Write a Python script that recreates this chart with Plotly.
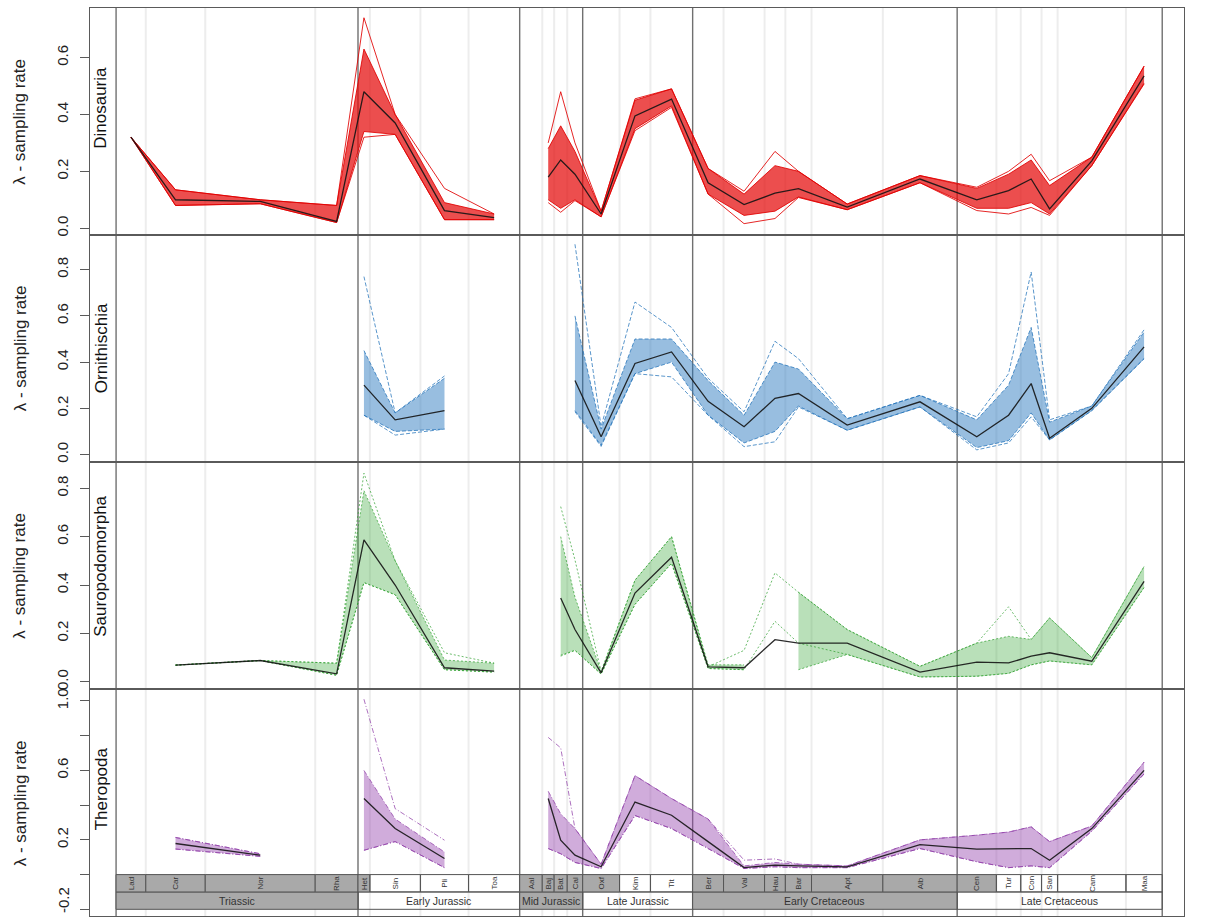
import plotly.graph_objects as go

N = None

# ---------------- time scale (Ma) ----------------
stage_names = ["Lad", "Car", "Nor", "Rha", "Het", "Sin", "Pli", "Toa", "Aal", "Baj", "Bat", "Cal",
               "Oxf", "Kim", "Tit", "Ber", "Val", "Hau", "Bar", "Apt", "Alb", "Cen", "Tur", "Con",
               "San", "Cam", "Maa"]
stage_base_ma = [242.0, 237.0, 227.0, 208.5, 201.3, 199.3, 190.8, 182.7, 174.1, 170.3, 168.3, 166.1,
                 163.5, 157.3, 152.1, 145.0, 139.8, 132.9, 129.4, 125.0, 113.0, 100.5, 93.9, 89.8,
                 86.3, 83.6, 72.1]
stage_top_ma = [237.0, 227.0, 208.5, 201.3, 199.3, 190.8, 182.7, 174.1, 170.3, 168.3, 166.1, 163.5,
                157.3, 152.1, 145.0, 139.8, 132.9, 129.4, 125.0, 113.0, 100.5, 93.9, 89.8, 86.3,
                83.6, 72.1, 66.0]
period_names = ["Triassic", "Early Jurassic", "Mid Jurassic", "Late Jurassic",
                "Early Cretaceous", "Late Cretaceous"]
period_base_ma = [242.0, 201.3, 174.1, 163.5, 145.0, 100.5]
period_top_ma = [201.3, 174.1, 163.5, 145.0, 100.5, 66.0]
period_shaded = [True, False, True, False, True, False]

# ---------------- lambda sampling rates (per stage) ----------------
clade_names = ["Dinosauria", "Ornithischia", "Sauropodomorpha", "Theropoda"]

din_mean = [0.32, 0.10, 0.094, 0.024, 0.48, 0.37, 0.062, 0.037, N, 0.18, 0.24, 0.19, 0.05, 0.395, 0.454,
            0.16, 0.083, 0.123, 0.139, 0.074, 0.173, 0.10, 0.132, 0.173, 0.068, 0.237, 0.536]
din_lo = [0.32, 0.08, 0.086, 0.02, 0.34, 0.33, 0.03, 0.03, N, 0.10, 0.07, 0.10, 0.04, 0.35, 0.43,
          0.12, 0.045, 0.06, 0.11, 0.065, 0.16, 0.07, 0.07, 0.09, 0.05, 0.22, 0.51]
din_hi = [0.32, 0.135, 0.10, 0.08, 0.63, 0.40, 0.09, 0.05, N, 0.28, 0.36, 0.27, 0.06, 0.45, 0.49,
          0.21, 0.12, 0.22, 0.20, 0.085, 0.185, 0.14, 0.19, 0.24, 0.15, 0.25, 0.57]
din_up = [0.32, 0.135, 0.10, 0.08, 0.74, 0.40, 0.14, 0.05, N, 0.30, 0.48, 0.30, 0.06, 0.455, 0.49,
          0.21, 0.13, 0.27, 0.20, 0.085, 0.185, 0.144, 0.20, 0.26, 0.167, 0.25, 0.57]
din_dn = [0.32, 0.08, 0.086, 0.02, 0.32, 0.33, 0.03, 0.03, N, 0.09, 0.056, 0.097, 0.04, 0.343, 0.425,
          0.12, 0.016, 0.034, 0.108, 0.065, 0.16, 0.062, 0.05, 0.073, 0.045, 0.22, 0.507]

orn_mean = [N, N, N, N, 0.30, 0.15, 0.19, N, N, N, N, 0.32, 0.077, 0.394, 0.444,
            0.23, 0.12, 0.243, 0.264, 0.127, 0.228, 0.077, 0.17, 0.307, 0.07, 0.20, 0.466]
orn_lo = [N, N, N, N, 0.17, 0.10, 0.11, N, N, N, N, 0.19, 0.04, 0.35, 0.40,
          0.17, 0.05, 0.10, 0.21, 0.105, 0.206, 0.03, 0.06, 0.18, 0.063, 0.19, 0.415]
orn_hi = [N, N, N, N, 0.45, 0.18, 0.33, N, N, N, N, 0.60, 0.11, 0.50, 0.50,
          0.32, 0.17, 0.40, 0.37, 0.155, 0.256, 0.15, 0.30, 0.55, 0.14, 0.21, 0.53]
orn_up = [N, N, N, N, 0.77, 0.18, 0.34, N, N, N, N, 0.91, 0.12, 0.66, 0.55,
          0.33, 0.185, 0.49, 0.415, 0.155, 0.256, 0.163, 0.35, 0.79, 0.15, 0.21, 0.54]
orn_dn = [N, N, N, N, 0.17, 0.084, 0.11, N, N, N, N, 0.185, 0.035, 0.35, 0.336,
          0.17, 0.034, 0.055, 0.206, 0.105, 0.206, 0.02, 0.05, 0.163, 0.063, 0.19, 0.415]

sau_mean = [N, 0.069, 0.088, 0.033, 0.587, 0.40, 0.058, 0.044, N, N, 0.346, 0.216, 0.037, 0.367, 0.515,
            0.062, 0.058, 0.174, 0.16, 0.16, 0.04, 0.081, 0.078, 0.106, 0.12, 0.085, 0.415]
sau_lo = [N, 0.069, 0.088, 0.027, 0.41, 0.36, 0.05, 0.04, N, N, 0.11, 0.13, 0.032, 0.32, 0.49,
          0.055, 0.05, N, 0.05, 0.113, 0.02, 0.023, 0.035, 0.07, 0.086, 0.07, 0.39]
sau_hi = [N, 0.069, 0.088, 0.077, 0.79, 0.50, 0.09, 0.077, N, N, 0.60, 0.35, 0.042, 0.42, 0.60,
          0.07, 0.07, N, 0.37, 0.216, 0.064, 0.16, 0.188, 0.175, 0.264, 0.10, 0.477]
sau_up = [N, 0.069, 0.088, 0.077, 0.862, 0.50, 0.12, 0.077, N, N, 0.724, 0.504, 0.042, 0.42, 0.60,
          0.062, 0.13, 0.45, 0.37, 0.216, 0.064, 0.16, 0.31, 0.175, 0.264, 0.10, 0.477]
sau_dn = [N, 0.069, 0.088, 0.027, 0.41, 0.36, 0.05, 0.04, N, N, 0.106, 0.13, 0.032, 0.32, 0.49,
          0.055, 0.05, 0.25, 0.16, 0.113, 0.02, 0.023, 0.035, 0.07, 0.086, 0.07, 0.39]

the_mean = [N, 0.179, 0.112, N, 0.438, 0.265, 0.093, N, N, 0.438, 0.198, 0.112, 0.045, 0.418, 0.342,
            0.19, 0.04, 0.055, 0.05, 0.045, 0.173, 0.147, 0.147, 0.15, 0.083, 0.265, 0.60]
the_lo = [N, 0.147, 0.105, N, 0.14, 0.19, 0.04, N, N, 0.15, 0.12, 0.07, 0.035, 0.34, 0.265,
          0.15, 0.035, 0.045, 0.04, 0.04, 0.15, 0.074, 0.04, 0.05, 0.04, 0.25, 0.58]
the_hi = [N, 0.214, 0.12, N, 0.60, 0.32, 0.13, N, N, 0.48, 0.35, 0.265, 0.06, 0.57, 0.438,
          0.32, 0.05, 0.07, 0.06, 0.05, 0.20, 0.227, 0.245, 0.275, 0.19, 0.28, 0.648]
the_up = [N, 0.214, 0.12, N, 1.01, 0.38, 0.198, N, N, 0.79, 0.73, 0.265, 0.06, 0.57, 0.438,
          0.32, 0.083, 0.09, 0.06, 0.05, 0.20, 0.227, 0.245, 0.275, 0.19, 0.28, 0.648]
the_dn = [N, 0.147, 0.105, N, 0.14, 0.19, 0.04, N, N, 0.15, 0.12, 0.07, 0.035, 0.34, 0.265,
          0.15, 0.035, 0.045, 0.04, 0.04, 0.15, 0.074, 0.04, 0.05, 0.04, 0.25, 0.58]

# ---------------- styling ----------------
W, H = 1219, 919
FONT = "Liberation Sans, Arial, sans-serif"
clade_line = ["rgba(225,0,0,0.85)", "rgba(35,115,185,0.75)", "rgba(45,160,45,0.7)", "rgba(145,65,170,0.75)"]
clade_fill = ["rgba(228,10,10,0.72)", "rgba(40,120,190,0.48)", "rgba(60,170,60,0.36)", "rgba(150,70,175,0.45)"]
clade_dash = ["solid", "4px,2px", "2px,2px", "5px,2px,1px,2px"]

panel_px = [(7, 235), (235, 462.5), (462.5, 690), (690, 917)]   # top, bottom in pixels
x_px = (90, 1184)
y_ranges = [[-0.0256, 0.7744], [-0.0346, 0.948], [-0.0318, 0.9064], [-0.2385, 1.066]]
y_ticks = [[0.0, 0.2, 0.4, 0.6], [0.0, 0.2, 0.4, 0.6, 0.8], [0.0, 0.2, 0.4, 0.6, 0.8],
           [-0.2, 0.0, 0.2, 0.4, 0.6, 0.8, 1.0]]
y_ticktext = [["0.0", "0.2", "0.4", "0.6"], ["0.0", "0.2", "0.4", "0.6", "0.8"],
              ["0.0", "0.2", "0.4", "0.6", "0.8"], ["", "", "0.2", "", "0.6", "", "1.0"]]
label_centers_px = [107, 348, 567, 790]
title_centers_px = [121, 348, 576, 804]

# time axis mapping: 358 px = 201.3 Ma, 5.944 px per Ma
PX_PER_MA = 5.944
x_left_ma = 201.3 + (358 - x_px[0]) / PX_PER_MA
x_right_ma = 201.3 - (x_px[1] - 358) / PX_PER_MA

mids = [(b + t) / 2 for b, t in zip(stage_base_ma, stage_top_ma)]

series = [
    (din_mean, din_lo, din_hi, din_up, din_dn),
    (orn_mean, orn_lo, orn_hi, orn_up, orn_dn),
    (sau_mean, sau_lo, sau_hi, sau_up, sau_dn),
    (the_mean, the_lo, the_hi, the_up, the_dn),
]


def runs(vals):
    out, start = [], None
    for i, v in enumerate(vals):
        if v is not None and start is None:
            start = i
        if v is None and start is not None:
            out.append((start, i - 1))
            start = None
    if start is not None:
        out.append((start, len(vals) - 1))
    return [r for r in out if r[1] > r[0]]


fig = go.Figure()

for k in range(4):
    ax = "" if k == 0 else str(k + 1)
    xa, ya = "x" + ax, "y" + ax
    mean, lo, hi, up, dn = series[k]
    # replicate spread band
    for (i0, i1) in runs(lo):
        xs = mids[i0:i1 + 1]
        fig.add_trace(go.Scatter(x=xs, y=lo[i0:i1 + 1], mode="lines", line=dict(width=0),
                                 xaxis=xa, yaxis=ya, hoverinfo="skip", showlegend=False))
        fig.add_trace(go.Scatter(x=xs, y=hi[i0:i1 + 1], mode="lines", line=dict(width=0),
                                 fill="tonexty", fillcolor=clade_fill[k],
                                 xaxis=xa, yaxis=ya, hoverinfo="skip", showlegend=False))
    # individual replicate lines
    for arr in (lo, hi, up, dn):
        for (i0, i1) in runs(arr):
            fig.add_trace(go.Scatter(x=mids[i0:i1 + 1], y=arr[i0:i1 + 1], mode="lines",
                                     line=dict(color=clade_line[k], width=1, dash=clade_dash[k]),
                                     xaxis=xa, yaxis=ya, hoverinfo="skip", showlegend=False))
    # observed series
    for (i0, i1) in runs(mean):
        fig.add_trace(go.Scatter(x=mids[i0:i1 + 1], y=mean[i0:i1 + 1], mode="lines",
                                 line=dict(color="rgba(20,20,20,0.9)", width=1.3),
                                 xaxis=xa, yaxis=ya, name=clade_names[k], showlegend=False))

layout = dict(width=W, height=H, autosize=False, margin=dict(l=0, r=0, t=0, b=0),
              paper_bgcolor="white", plot_bgcolor="white", showlegend=False,
              font=dict(family=FONT, color="#222"))

for k in range(4):
    ax = "" if k == 0 else str(k + 1)
    top, bot = panel_px[k]
    layout["xaxis" + ax] = dict(domain=[x_px[0] / W, x_px[1] / W], range=[x_left_ma, x_right_ma],
                                showgrid=False, zeroline=False, showticklabels=False, ticks="",
                                showline=True, mirror=True, linecolor="#5a5a5a", linewidth=1.3,
                                anchor="y" + ax)
    layout["yaxis" + ax] = dict(domain=[1 - bot / H, 1 - top / H], range=y_ranges[k],
                                tickvals=y_ticks[k], ticktext=y_ticktext[k], tickangle=-90,
                                ticks="outside", ticklen=9, tickwidth=1, tickcolor="#5a5a5a",
                                ticklabelstandoff=6,
                                tickfont=dict(size=15, family=FONT, color="#222"),
                                showgrid=False, zeroline=False, showline=True, mirror=True,
                                linecolor="#5a5a5a", linewidth=1.3, anchor="x" + ax)

shapes = []
period_edges = set(period_base_ma + period_top_ma)
y_full0, y_full1 = 1 - panel_px[3][1] / H, 1 - panel_px[0][0] / H
for b in stage_base_ma[1:]:
    if b not in period_edges:
        shapes.append(dict(type="line", xref="x", yref="paper", x0=b, x1=b, y0=y_full0, y1=y_full1,
                           line=dict(color="rgba(225,225,225,0.6)", width=2), layer="below"))
for b in sorted(period_edges):
    shapes.append(dict(type="line", xref="x", yref="paper", x0=b, x1=b, y0=y_full0, y1=y_full1,
                       line=dict(color="#707070", width=1.4), layer="below"))

annotations = []
# time scale bar in the bottom panel
for p in range(len(period_names)):
    fillc = "#a9a9a9" if period_shaded[p] else "rgba(0,0,0,0)"
    shapes.append(dict(type="rect", xref="x4", yref="y4", x0=period_base_ma[p], x1=period_top_ma[p],
                       y0=-0.2, y1=-0.1, fillcolor=fillc, line=dict(color="#555", width=1),
                       layer="above"))
    annotations.append(dict(x=(period_base_ma[p] + period_top_ma[p]) / 2, y=-0.15, xref="x4", yref="y4",
                            text=period_names[p], showarrow=False,
                            font=dict(size=10.5, family=FONT, color="#333")))
for s in range(len(stage_names)):
    shaded = False
    for p in range(len(period_names)):
        if period_base_ma[p] >= stage_base_ma[s] > period_top_ma[p] - 1e-9 and period_shaded[p]:
            shaded = True
    fillc = "#a9a9a9" if shaded else "rgba(0,0,0,0)"
    shapes.append(dict(type="rect", xref="x4", yref="y4", x0=stage_base_ma[s], x1=stage_top_ma[s],
                       y0=-0.1, y1=0.0, fillcolor=fillc, line=dict(color="#555", width=1),
                       layer="above"))
    annotations.append(dict(x=mids[s], y=-0.05, xref="x4", yref="y4", text=stage_names[s],
                            showarrow=False, textangle=-90,
                            font=dict(size=8, family=FONT, color="#333")))

for k in range(4):
    annotations.append(dict(x=101 / W, y=1 - label_centers_px[k] / H, xref="paper", yref="paper",
                            xanchor="center", yanchor="middle",
                            text=clade_names[k], showarrow=False, textangle=-90,
                            font=dict(size=17, family=FONT, color="#111")))
    annotations.append(dict(x=20 / W, y=1 - title_centers_px[k] / H, xref="paper", yref="paper",
                            xanchor="center", yanchor="middle",
                            text="λ - sampling rate", showarrow=False, textangle=-90,
                            font=dict(size=17, family=FONT, color="#222")))

# bottom-most tick label of the Theropoda axis, nudged up to stay on the page
annotations.append(dict(x=63 / W, y=1 - 901 / H, xref="paper", yref="paper",
                        xanchor="center", yanchor="middle",
                        text="-0.2", showarrow=False, textangle=-90,
                        font=dict(size=15, family=FONT, color="#222")))

layout["shapes"] = shapes
layout["annotations"] = annotations
fig.update_layout(**layout)

fig.write_html("out.html", config={"displayModeBar": False},
               post_script="document.body.style.margin='0px';")
